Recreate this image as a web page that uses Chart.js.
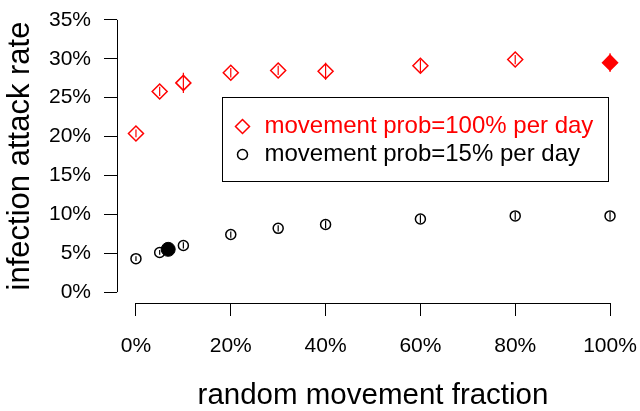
<!DOCTYPE html>
<html>
<head>
<meta charset="utf-8">
<script src="https://cdn.jsdelivr.net/npm/chart.js@4.4.1/dist/chart.umd.min.js"></script>
<style>
  html, body { margin: 0; padding: 0; background: #fff; }
  #wrap { width: 640px; height: 411px; position: relative; }
</style>
</head>
<body>
<div id="wrap"><canvas id="attackChart"></canvas></div>
<script>
// random movement fraction (%) on the x axis
const fractions = [0, 5, 10, 20, 30, 40, 60, 80, 100];

// movement prob = 100% per day (last point drawn filled)
const rateProb100 = [20.4, 25.8, 26.9, 28.2, 28.5, 28.4, 29.1, 29.9, 29.5];
const errProb100 = [0.5, 0.6, 1.3, 0.6, 0.6, 1.1, 0.8, 0.6, 1.2];

// movement prob = 15% per day
const rateProb15 = [4.3, 5.1, 6.0, 7.4, 8.2, 8.7, 9.4, 9.8, 9.8];
const errProb15 = [0.3, 0.3, 0.4, 0.4, 0.4, 0.5, 0.5, 0.5, 0.5];

// filled black reference point
const baseFraction = [6.8];
const baseRate = [5.5];

const xTicks = [0, 20, 40, 60, 80, 100];
const yTicks = [0, 5, 10, 15, 20, 25, 30, 35];

const legendLabels = ['movement prob=100% per day', 'movement prob=15% per day'];

const RED = '#ff0000';
const FONT = '"Liberation Sans", Arial, Helvetica, sans-serif';

function toPoints(xs, ys) {
    return xs.map((x, i) => ({ x: x, y: ys[i] }));
}

// R style axes: line only from first to last tick
const axisLines = {
    id: 'axisLines',
    afterDraw(chart) {
        const { ctx, scales: { x, y }, chartArea } = chart;
        ctx.save();
        ctx.strokeStyle = '#000';
        ctx.lineWidth = 1;
        ctx.beginPath();
        const ax = Math.round(chartArea.left) + 0.5;
        ctx.moveTo(ax, y.getPixelForValue(yTicks[0]));
        ctx.lineTo(ax, y.getPixelForValue(yTicks[yTicks.length - 1]));
        const ay = Math.round(chartArea.bottom) + 0.5;
        ctx.moveTo(x.getPixelForValue(xTicks[0]), ay);
        ctx.lineTo(x.getPixelForValue(xTicks[xTicks.length - 1]), ay);
        ctx.stroke();
        ctx.restore();
    }
};

// vertical error bars through the markers
const errorBars = {
    id: 'errorBars',
    afterDatasetsDraw(chart) {
        const { ctx, scales: { x, y } } = chart;
        const sets = [
            { vals: rateProb100, errs: errProb100, color: RED },
            { vals: rateProb15, errs: errProb15, color: '#000' }
        ];
        ctx.save();
        ctx.lineWidth = 1.2;
        sets.forEach(s => {
            ctx.strokeStyle = s.color;
            fractions.forEach((f, i) => {
                const px = x.getPixelForValue(f);
                ctx.beginPath();
                ctx.moveTo(px, y.getPixelForValue(s.vals[i] - s.errs[i]));
                ctx.lineTo(px, y.getPixelForValue(s.vals[i] + s.errs[i]));
                ctx.stroke();
            });
        });
        ctx.restore();
    }
};

// boxed legend inside the plot, like R's legend()
const boxLegend = {
    id: 'boxLegend',
    afterDraw(chart) {
        const { ctx, scales: { x, y } } = chart;
        const left = Math.round(x.getPixelForValue(18.1)) + 0.5;
        const right = Math.round(x.getPixelForValue(99.6)) + 0.5;
        const top = Math.round(y.getPixelForValue(25.1)) + 0.5;
        const bottom = Math.round(y.getPixelForValue(14.3)) + 0.5;
        ctx.save();
        ctx.strokeStyle = '#000';
        ctx.lineWidth = 1;
        ctx.strokeRect(left, top, right - left, bottom - top);

        const colors = [RED, '#000'];
        ctx.font = '24px ' + FONT;
        ctx.textBaseline = 'middle';
        legendLabels.forEach((label, i) => {
            const cy = top + 29 + i * 28;
            const mx = left + 20;
            ctx.strokeStyle = colors[i];
            ctx.lineWidth = 1.5;
            ctx.beginPath();
            if (i === 0) {
                ctx.moveTo(mx, cy - 7);
                ctx.lineTo(mx + 7, cy);
                ctx.lineTo(mx, cy + 7);
                ctx.lineTo(mx - 7, cy);
                ctx.closePath();
            } else {
                ctx.arc(mx, cy, 5, 0, Math.PI * 2);
            }
            ctx.stroke();
            ctx.fillStyle = colors[i];
            ctx.fillText(label, left + 42, cy);
        });
        ctx.restore();
    }
};

const ctx = document.getElementById('attackChart').getContext('2d');
const lastIdx = fractions.length - 1;

new Chart(ctx, {
    type: 'scatter',
    data: {
        datasets: [
            {
                label: legendLabels[0],
                data: toPoints(fractions, rateProb100),
                pointStyle: 'rectRot',
                pointRadius: 7.5,
                pointBorderWidth: 1.5,
                borderColor: RED,
                pointBackgroundColor: c => c.dataIndex === lastIdx ? RED : 'rgba(0,0,0,0)',
                showLine: false
            },
            {
                label: legendLabels[1],
                data: toPoints(fractions, rateProb15),
                pointStyle: 'circle',
                pointRadius: 5,
                pointBorderWidth: 1.5,
                borderColor: '#000',
                pointBackgroundColor: 'rgba(0,0,0,0)',
                showLine: false
            },
            {
                label: 'baseline',
                data: toPoints(baseFraction, baseRate),
                pointStyle: 'circle',
                pointRadius: 7,
                pointBorderWidth: 1,
                borderColor: '#000',
                pointBackgroundColor: '#000',
                showLine: false
            }
        ]
    },
    options: {
        responsive: true,
        maintainAspectRatio: false,
        animation: false,
        layout: { padding: { top: 9, right: 11, left: 0, bottom: 0 } },
        plugins: {
            legend: { display: false },
            tooltip: { enabled: false }
        },
        scales: {
            x: {
                type: 'linear',
                min: -4,
                max: 104,
                afterBuildTicks: axis => { axis.ticks = xTicks.map(v => ({ value: v })); },
                afterFit: axis => {
                    axis.height = 108;
                    axis.paddingLeft = 0;
                    axis.paddingRight = 0;
                },
                border: { display: false },
                grid: {
                    drawOnChartArea: false,
                    drawTicks: true,
                    tickLength: 13,
                    color: '#000',
                    lineWidth: 1
                },
                ticks: {
                    color: '#000',
                    padding: 18,
                    maxRotation: 0,
                    font: { family: FONT, size: 21 },
                    callback: v => v + '%'
                },
                title: {
                    display: true,
                    text: 'random movement fraction',
                    color: '#000',
                    padding: 0,
                    font: { family: FONT, size: 29.5, lineHeight: 1 }
                }
            },
            y: {
                type: 'linear',
                min: -1.4,
                max: 36.4,
                afterBuildTicks: axis => { axis.ticks = yTicks.map(v => ({ value: v })); },
                afterFit: axis => {
                    axis.width = 117;
                    axis.paddingTop = 0;
                    axis.paddingBottom = 0;
                },
                border: { display: false },
                grid: {
                    drawOnChartArea: false,
                    drawTicks: true,
                    tickLength: 13,
                    color: '#000',
                    lineWidth: 1
                },
                ticks: {
                    color: '#000',
                    padding: 13,
                    font: { family: FONT, size: 21 },
                    callback: v => v + '%'
                },
                title: {
                    display: true,
                    text: 'infection attack rate',
                    color: '#000',
                    padding: 2,
                    font: { family: FONT, size: 31 }
                }
            }
        }
    },
    plugins: [axisLines, errorBars, boxLegend]
});
</script>
</body>
</html>
